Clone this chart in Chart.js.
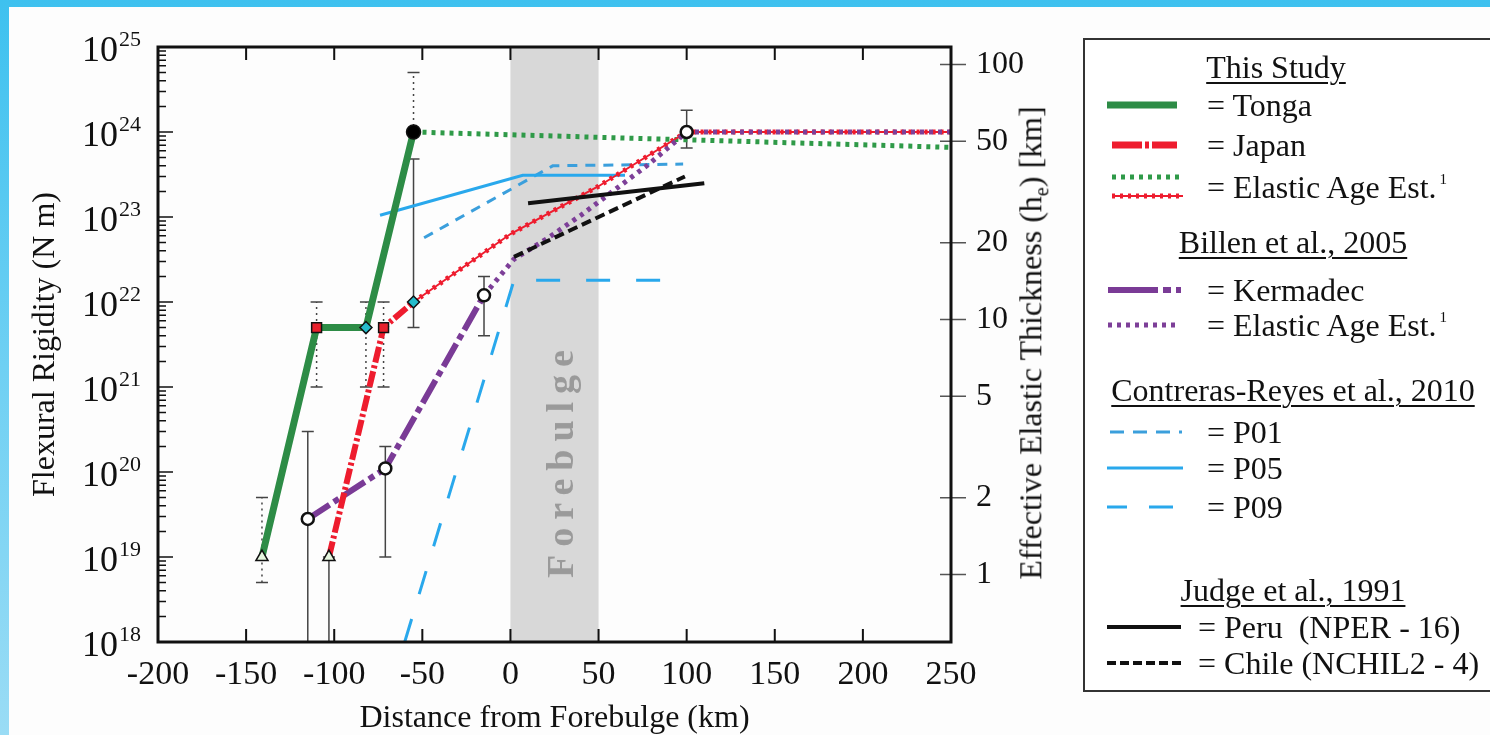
<!DOCTYPE html>
<html>
<head>
<meta charset="utf-8">
<script src="https://cdn.jsdelivr.net/npm/chart.js@4.4.1/dist/chart.umd.min.js"></script>
<style>
  html, body { margin: 0; padding: 0; width: 1490px; height: 735px; overflow: hidden; }
  body { position: relative; background: linear-gradient(180deg, #3ec1ef 0%, #6fd0f3 50%, #9adcf5 100%); font-family: "Liberation Serif", "Times New Roman", serif; color: #111; }
  #panel { position: absolute; left: 9px; top: 7px; right: 0; bottom: 0; background: #fdfdfd; }
  #chart { position: absolute; left: 0; top: 0; }
  #bulge { position: absolute; left: 560px; top: 460px; transform: translate(-50%, -50%) rotate(-90deg); font-family: "Liberation Serif", serif; font-size: 38px; font-weight: bold; letter-spacing: 8px; color: #9a9a9a; white-space: nowrap; }
  #rtitle { position: absolute; left: 1033px; top: 343px; transform: translate(-50%, -50%) rotate(-90deg); font-family: "Liberation Serif", serif; font-size: 32px; white-space: nowrap; }
  #legend { position: absolute; left: 1083px; top: 38px; width: 440px; height: 654px; border: 2px solid #333; background: #fff; box-sizing: border-box; }
  .row { position: absolute; left: 0; height: 40px; display: flex; align-items: center; font-family: "Liberation Serif", serif; font-size: 32px; white-space: nowrap; }
  .row svg { position: absolute; left: 22px; }
  .row span { position: absolute; left: 122px; font-family: "Liberation Serif", serif; }
  .head { position: absolute; left: 0; width: 400px; text-align: center; font-family: "Liberation Serif", serif; font-size: 32px; text-decoration: underline; text-decoration-thickness: 1.5px; text-underline-offset: 4px; white-space: nowrap; line-height: 40px; }
  sup { font-size: 15px; vertical-align: 14px; margin-left: 3px; }
</style>
</head>
<body>
<div id="panel"></div>
<canvas id="chart" width="1490" height="735"></canvas>
<div id="bulge">Forebulge</div>
<div id="rtitle">Effective Elastic Thickness (h<sub style="font-size:20px">e</sub>) [km]</div>
<div id="legend">
  <div class="head" style="top:7px;left:-9px">This Study</div>
  <div class="row" style="top:45px"><svg width="80" height="20"><line x1="0" y1="10" x2="70" y2="10" stroke="#2d8c46" stroke-width="7"/></svg><span>= Tonga</span></div>
  <div class="row" style="top:85px"><svg width="80" height="20"><line x1="5" y1="10" x2="70" y2="10" stroke="#ee1c2e" stroke-width="7" stroke-dasharray="30,3,4,3"/></svg><span>= Japan</span></div>
  <div class="row" style="top:127px"><svg width="80" height="34" style="top:3px"><line x1="5" y1="7" x2="76" y2="7" stroke="#2f9a48" stroke-width="5" stroke-dasharray="4,5"/><line x1="5" y1="26" x2="76" y2="26" stroke="#ee1c2e" stroke-width="2"/><line x1="5" y1="26" x2="76" y2="26" stroke="#ee1c2e" stroke-width="5" stroke-dasharray="3,5"/></svg><span>= Elastic Age Est.<sup>1</sup></span></div>
  <div class="head" style="top:182px;left:8px">Billen et al., 2005</div>
  <div class="row" style="top:230px"><svg width="80" height="20"><line x1="1" y1="10" x2="74" y2="10" stroke="#7a3b96" stroke-width="6" stroke-dasharray="50,5,8,5"/></svg><span>= Kermadec</span></div>
  <div class="row" style="top:265px"><svg width="80" height="20"><line x1="1" y1="10" x2="72" y2="10" stroke="#7d3f98" stroke-width="5" stroke-dasharray="4,5"/></svg><span>= Elastic Age Est.<sup>1</sup></span></div>
  <div class="head" style="top:330px;left:8px">Contreras-Reyes et al., 2010</div>
  <div class="row" style="top:372px"><svg width="80" height="20"><line x1="3" y1="10" x2="75" y2="10" stroke="#3b9fdc" stroke-width="3" stroke-dasharray="14,9"/></svg><span>= P01</span></div>
  <div class="row" style="top:408px"><svg width="80" height="20"><line x1="-4" y1="10" x2="76" y2="10" stroke="#29a8ec" stroke-width="3"/></svg><span>= P05</span></div>
  <div class="row" style="top:447px"><svg width="80" height="20"><line x1="-4" y1="10" x2="76" y2="10" stroke="#29a8ec" stroke-width="3" stroke-dasharray="24,22"/></svg><span>= P09</span></div>
  <div class="head" style="top:530px;left:8px">Judge et al., 1991</div>
  <div class="row" style="top:567px"><svg width="80" height="20"><line x1="0" y1="10" x2="74" y2="10" stroke="#111" stroke-width="4"/></svg><span style="left:113px">= Peru&nbsp; (NPER - 16)</span></div>
  <div class="row" style="top:603px"><svg width="80" height="20"><line x1="0" y1="10" x2="74" y2="10" stroke="#111" stroke-width="4" stroke-dasharray="9,4"/></svg><span style="left:113px">= Chile (NCHIL2 - 4)</span></div>
</div>
<script>
// distance from forebulge (km) and flexural rigidity (N m)
const tongaX = [-141, -110, -82, -55];
const tongaD = [1e19, 5e21, 5e21, 1e24];
const tongaAgeX = [-55, 250];
const tongaAgeD = [1e24, 6.6e23];
const japanX = [-103, -72, -55];
const japanD = [1e19, 5e21, 1e22];
const japanAgeX = [-55, 0, 50, 100, 250];
const japanAgeD = [1e22, 6.3e22, 2.3e23, 1e24, 1e24];
const kermX = [-115, -71, -15];
const kermD = [2.8e19, 1.1e20, 1.2e22];
const kermAgeX = [-15, 2, 21, 40, 58, 78, 100, 250];
const kermAgeD = [1.2e22, 3.2e22, 5.6e22, 1.05e23, 2.0e23, 4.1e23, 1e24, 1e24];
const p01X = [-49, 24, 98];
const p01D = [5.7e22, 4e23, 4.2e23];
const p05X = [-74, 7, 65];
const p05D = [1.05e23, 3.1e23, 3.1e23];
const p09X = [-60, 2, 98];
const p09D = [1e18, 1.8e22, 1.8e22];
const peruX = [10, 110];
const peruD = [1.45e23, 2.5e23];
const chileX = [2, 99];
const chileD = [3.4e22, 3e23];

// error bars
const errX = [-141, -110, -82, -72, -55, -55, -115, -103, -71, -15, 100];
const errLow = [5e18, 1e21, 1e21, 1e21, 1e24, 5e21, 1e18, 1e18, 1e19, 4e21, 6.5e23];
const errHigh = [5e19, 1e22, 1e22, 1e22, 5e24, 4.8e23, 3e20, 1e19, 2e20, 2e22, 1.8e24];
const errDotted = [true, true, true, true, true, false, false, false, false, false, false];

const bandX = [0, 50];
const xTicks = [-150, -100, -50, 0, 50, 100, 150, 200];
const decades = [18, 19, 20, 21, 22, 23, 24, 25];
const hTicks = [1, 2, 5, 10, 20, 50, 100];
const D_PER_KM3 = 6.22e18; // D = E h^3 / 12(1-v^2)

const GREEN = '#2d8c46', RED = '#ee1c2e', PURPLE = '#7a3b96', BLUE = '#29a8ec';
const SERIF = '"Liberation Serif", serif';
Chart.defaults.font.family = SERIF;

function pts(xs, ys) { return xs.map((x, i) => ({ x: x, y: ys[i] })); }

const bandAndErrors = {
  id: 'bandAndErrors',
  beforeDatasetsDraw(chart) {
    const { ctx, chartArea: a, scales: { x, y } } = chart;
    ctx.save();
    ctx.fillStyle = '#d8d8d8';
    const x0 = x.getPixelForValue(bandX[0]), x1 = x.getPixelForValue(bandX[1]);
    ctx.fillRect(x0, a.top, x1 - x0, a.bottom - a.top);
    ctx.strokeStyle = '#444';
    ctx.lineWidth = 1.5;
    errX.forEach((v, i) => {
      const px = x.getPixelForValue(v);
      const lo = y.getPixelForValue(errLow[i]), hi = y.getPixelForValue(errHigh[i]);
      ctx.setLineDash(errDotted[i] ? [2, 4] : []);
      ctx.beginPath(); ctx.moveTo(px, lo); ctx.lineTo(px, hi); ctx.stroke();
      ctx.setLineDash([]);
      ctx.beginPath();
      ctx.moveTo(px - 6, hi); ctx.lineTo(px + 6, hi);
      ctx.moveTo(px - 6, lo); ctx.lineTo(px + 6, lo);
      ctx.stroke();
    });
    ctx.restore();
  }
};

const frameTicks = {
  id: 'frameTicks',
  afterDatasetsDraw(chart) {
    const { ctx, chartArea: a, scales: { x, y, y2 } } = chart;
    ctx.save();
    ctx.strokeStyle = '#111';
    // inward ticks on left axis
    ctx.lineWidth = 1.5;
    ctx.beginPath();
    decades.slice(0, -1).forEach(n => {
      for (let m = 1; m <= 9; m++) {
        const py = y.getPixelForValue(m * Math.pow(10, n));
        ctx.moveTo(a.left, py); ctx.lineTo(a.left + (m === 1 ? 15 : 8), py);
      }
    });
    ctx.stroke();
    // inward ticks on bottom and top
    ctx.lineWidth = 2;
    ctx.beginPath();
    xTicks.forEach(v => {
      const px = x.getPixelForValue(v);
      ctx.moveTo(px, a.bottom); ctx.lineTo(px, a.bottom - 13);
      ctx.moveTo(px, a.top); ctx.lineTo(px, a.top + 13);
    });
    ctx.stroke();
    // right axis ticks across the frame
    ctx.strokeStyle = '#555';
    ctx.lineWidth = 1.5;
    ctx.beginPath();
    hTicks.forEach(h => {
      const py = y2.getPixelForValue(h * h * h * D_PER_KM3);
      ctx.moveTo(a.right - 11, py); ctx.lineTo(a.right + 15, py);
    });
    ctx.stroke();
    // frame
    ctx.strokeStyle = '#111';
    ctx.lineWidth = 3;
    ctx.strokeRect(a.left, a.top, a.right - a.left, a.bottom - a.top);
    // left labels 10^n
    ctx.fillStyle = '#111';
    decades.forEach(n => {
      const py = y.getPixelForValue(Math.pow(10, n));
      ctx.font = '36px ' + SERIF;
      ctx.textAlign = 'right'; ctx.textBaseline = 'alphabetic';
      ctx.fillText('10', 118, py + 14);
      ctx.font = '22px ' + SERIF;
      ctx.textAlign = 'left';
      ctx.fillText(String(n), 119, py - 1);
    });
    ctx.restore();
  }
};

new Chart(document.getElementById('chart'), {
  type: 'line',
  data: {
    datasets: [
      { label: 'Tonga', data: pts(tongaX, tongaD), borderColor: GREEN, borderWidth: 7,
        pointStyle: ['triangle', 'rect', 'rectRot', 'circle'], pointRadius: [7, 7, 6, 7],
        pointBackgroundColor: ['#e6f7df', '#e8202c', '#25bccc', '#000'], pointBorderColor: '#111', pointBorderWidth: 1.5, order: 0 },
      { label: 'Japan', data: pts(japanX, japanD), borderColor: RED, borderWidth: 6, borderDash: [16, 3, 3, 3],
        pointStyle: ['triangle', 'rect', 'rectRot'], pointRadius: [7, 7, 6],
        pointBackgroundColor: ['#e6f7df', '#e8202c', '#25bccc'], pointBorderColor: '#111', pointBorderWidth: 1.5, order: 1 },
      { label: 'Kermadec', data: pts(kermX, kermD), borderColor: PURPLE, borderWidth: 6, borderDash: [26, 5, 6, 5],
        pointRadius: 6, pointBackgroundColor: '#fff', pointBorderColor: '#111', pointBorderWidth: 2.5, order: 2 },
      { label: 'Peru (NPER - 16)', data: pts(peruX, peruD), borderColor: '#111', borderWidth: 4, pointRadius: 0, order: 3 },
      { label: 'Chile (NCHIL2 - 4)', data: pts(chileX, chileD), borderColor: '#111', borderWidth: 4, borderDash: [10, 5], pointRadius: 0, order: 4 },
      { label: 'Kermadec Elastic Age Est.', data: pts(kermAgeX, kermAgeD), borderColor: '#7d3f98', borderWidth: 5, borderDash: [4, 5],
        pointRadius: [0, 0, 0, 0, 0, 0, 6, 0], pointBackgroundColor: '#fff', pointBorderColor: '#111', pointBorderWidth: 2.5, order: 5 },
      { label: 'Japan Elastic Age Est. dots', data: pts(japanAgeX, japanAgeD), borderColor: RED, borderWidth: 5, borderDash: [3, 5], pointRadius: 0, order: 6 },
      { label: 'Japan Elastic Age Est.', data: pts(japanAgeX, japanAgeD), borderColor: RED, borderWidth: 2, pointRadius: 0, order: 7 },
      { label: 'Tonga Elastic Age Est.', data: pts(tongaAgeX, tongaAgeD), borderColor: '#2f9a48', borderWidth: 5, borderDash: [4, 5], pointRadius: 0, order: 8 },
      { label: 'P05', data: pts(p05X, p05D), borderColor: BLUE, borderWidth: 3, pointRadius: 0, order: 9 },
      { label: 'P01', data: pts(p01X, p01D), borderColor: '#3b9fdc', borderWidth: 3, borderDash: [10, 8], pointRadius: 0, order: 10 },
      { label: 'P09', data: pts(p09X, p09D), borderColor: BLUE, borderWidth: 3, borderDash: [24, 26], pointRadius: 0, order: 11 }
    ]
  },
  options: {
    responsive: false,
    animation: false,
    events: [],
    layout: { padding: { top: 47, right: 429, left: 0, bottom: 0 } },
    elements: { line: { tension: 0, fill: false } },
    plugins: { legend: { display: false }, tooltip: { enabled: false } },
    scales: {
      x: {
        type: 'linear', position: 'bottom', min: -200, max: 250,
        afterFit: s => { s.height = 93; },
        grid: { display: false }, border: { display: false },
        ticks: { stepSize: 50, autoSkip: false, maxRotation: 0, padding: 5, color: '#111', font: { family: SERIF, size: 34 } },
        title: { display: true, text: 'Distance from Forebulge (km)', color: '#111', font: { family: SERIF, size: 32, lineHeight: 1 }, padding: { top: 2, bottom: 0 } }
      },
      y: {
        type: 'logarithmic', position: 'left', min: 1e18, max: 1e25,
        afterFit: s => { s.width = 158; },
        grid: { display: false }, border: { display: false },
        ticks: { display: false },
        title: { display: true, text: 'Flexural Rigidity (N m)', color: '#111', font: { family: SERIF, size: 32 }, padding: { top: 26, bottom: 0 } }
      },
      y2: {
        type: 'logarithmic', position: 'right', min: 1e18, max: 1e25,
        afterFit: s => { s.width = 110; },
        afterBuildTicks: s => { s.ticks = hTicks.map(h => ({ value: h * h * h * D_PER_KM3 })); },
        grid: { display: false }, border: { display: false },
        ticks: { autoSkip: false, padding: 17, color: '#111', font: { family: SERIF, size: 32 },
          callback: v => String(Math.round(Math.cbrt(v / D_PER_KM3))) }
      }
    }
  },
  plugins: [bandAndErrors, frameTicks]
});
</script>
</body>
</html>
